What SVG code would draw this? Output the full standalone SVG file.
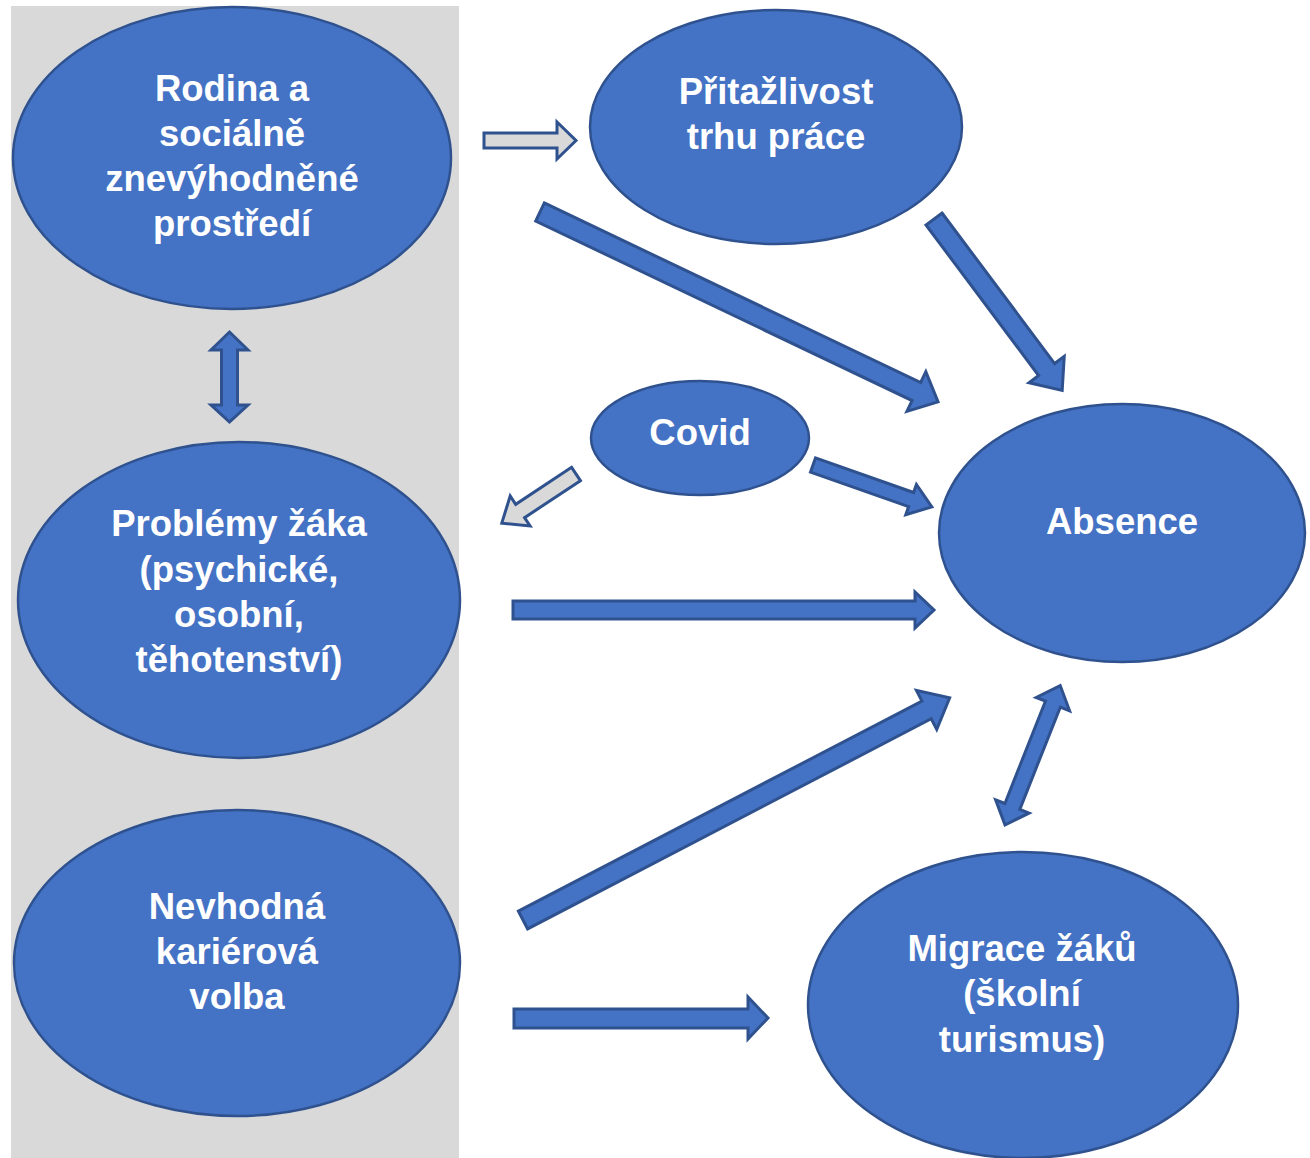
<svg xmlns="http://www.w3.org/2000/svg" width="1310" height="1158" viewBox="0 0 1310 1158">
<style>
.node{fill:#4472c4;stroke:#2f528f;stroke-width:2.5}
.lbl{font-family:"Liberation Sans",Arial,sans-serif;font-weight:bold;font-size:36.5px;fill:#ffffff;text-anchor:middle}
.arr{fill:#4472c4;stroke:#2f528f;stroke-width:3;stroke-linejoin:miter}
.garr{fill:#d9d9d9;stroke:#2f528f;stroke-width:3;stroke-linejoin:miter}
</style>
<rect x="0" y="0" width="1310" height="1158" fill="#ffffff"/>
<rect x="11" y="6" width="448" height="1152" fill="#d9d9d9"/>
<g id="connectors">
<polygon class="garr" points="484,133 557,133 557,122 576,140.5 557,159 557,148 484,148"/>
<polygon class="arr" transform="translate(540,212) rotate(25.5)" points="0,-10 417,-10 417,-22 441,0 417,22 417,10 0,10"/>
<polygon class="arr" transform="translate(934,219) rotate(53.2)" points="0,-10 188,-10 188,-22 214,0 188,22 188,10 0,10"/>
<polygon class="arr" transform="translate(813,465) rotate(19.4)" points="0,-7.5 104,-7.5 104,-16 126,0 104,16 104,7.5 0,7.5"/>
<polygon class="garr" transform="translate(576,474) rotate(146.5)" points="0,-8 67,-8 67,-18 89,0 67,18 67,8 0,8"/>
<polygon class="arr" points="513,601 915,601 915,592 934,610 915,628 915,619 513,619"/>
<polygon class="arr" transform="translate(523,920) rotate(-27.5)" points="0,-10 455,-10 455,-22 481,0 455,22 455,10 0,10"/>
<polygon class="arr" points="514,1009 748,1009 748,997 768,1018 748,1039 748,1028 514,1028"/>
<polygon class="arr" points="229.5,332 248,350 237.5,350 237.5,405 248,405 229.5,422 211,405 221.5,405 221.5,350 211,350"/>
<polygon class="arr" transform="translate(1005,825) rotate(-68.4)" points="0,0 20,-18 20,-8 130,-8 130,-18 150,0 130,18 130,8 20,8 20,18"/>
</g>
<g id="rodina">
<ellipse class="node" cx="232" cy="158" rx="219" ry="151"/>
<text class="lbl" x="232" y="101">Rodina a</text>
<text class="lbl" x="232" y="146">sociálně</text>
<text class="lbl" x="232" y="191">znevýhodněné</text>
<text class="lbl" x="232" y="236">prostředí</text>
</g>
<g id="pritazlivost">
<ellipse class="node" cx="776" cy="127" rx="186" ry="117"/>
<text class="lbl" x="776" y="104">Přitažlivost</text>
<text class="lbl" x="776" y="149">trhu práce</text>
</g>
<g id="covid">
<ellipse class="node" cx="700" cy="438" rx="109" ry="57"/>
<text class="lbl" x="700" y="445">Covid</text>
</g>
<g id="absence">
<ellipse class="node" cx="1122" cy="533" rx="183" ry="129"/>
<text class="lbl" x="1122" y="534">Absence</text>
</g>
<g id="problemy">
<ellipse class="node" cx="239" cy="600" rx="221" ry="158"/>
<text class="lbl" x="239" y="536">Problémy žáka</text>
<text class="lbl" x="239" y="582">(psychické,</text>
<text class="lbl" x="239" y="627">osobní,</text>
<text class="lbl" x="239" y="672">těhotenství)</text>
</g>
<g id="nevhodna">
<ellipse class="node" cx="237" cy="963" rx="223" ry="153"/>
<text class="lbl" x="237" y="919">Nevhodná</text>
<text class="lbl" x="237" y="964">kariérová</text>
<text class="lbl" x="237" y="1009">volba</text>
</g>
<g id="migrace">
<ellipse class="node" cx="1023" cy="1005" rx="215" ry="153"/>
<text class="lbl" x="1022" y="961">Migrace žáků</text>
<text class="lbl" x="1022" y="1006">(školní</text>
<text class="lbl" x="1022" y="1052">turismus)</text>
</g>
</svg>
